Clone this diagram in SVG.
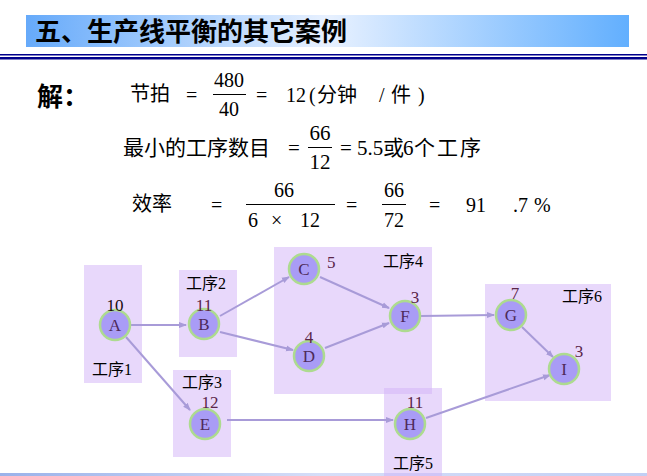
<svg xmlns="http://www.w3.org/2000/svg" width="647" height="476" viewBox="0 0 647 476" xml:space="preserve">
<defs>
<linearGradient id="tg" x1="0" y1="0" x2="1" y2="0">
<stop offset="0" stop-color="#66aafa"/>
<stop offset="0.5" stop-color="#e8f1ff"/>
<stop offset="1" stop-color="#62affe"/>
</linearGradient>
<linearGradient id="bg" x1="0" y1="0" x2="1" y2="0">
<stop offset="0" stop-color="#9ab2ea"/>
<stop offset="0.5" stop-color="#d6def8"/>
<stop offset="1" stop-color="#c2cff4"/>
</linearGradient>
<marker id="ah" markerWidth="8" markerHeight="8" refX="7" refY="4" orient="auto" markerUnits="userSpaceOnUse">
<path d="M0,1 L8,4 L0,7 Z" fill="#a89bd8"/>
</marker>
<style>
text{white-space:pre}
.t{font-family:"Liberation Serif","Noto Sans CJK SC",serif;fill:#000}
.eq{font-size:20px}
.eq2{font-size:21px}
.lb{font-size:16px}
.num{font-family:"Liberation Serif",serif;font-size:17px;fill:#5a2648}
.box{fill:#d2b2f8;fill-opacity:0.5}
.nd{fill:#a99cf6;stroke:#addb8f;stroke-width:2.5}
.nt{font-family:"Liberation Serif",serif;font-size:17px;fill:#4e2a5a;text-anchor:middle}
.cn{stroke:#a89bd8;stroke-width:2;fill:none;marker-end:url(#ah)}
.bar{stroke:#000;stroke-width:1}
</style>
</defs>
<rect width="647" height="476" fill="#fff"/>
<g id="title">
<rect x="26" y="15" width="603" height="32" fill="url(#tg)"/>
<text x="35" y="41" font-family="'Noto Sans CJK SC',sans-serif" font-size="26" font-weight="bold" fill="#000">五、生产线平衡的其它案例</text>
<rect x="0" y="54" width="647" height="1.5" fill="#00008b"/>
<rect x="0" y="57" width="647" height="2.5" fill="#00008b"/>
</g>
<rect x="0" y="473" width="647" height="3" fill="url(#bg)"/>
<g id="formulas">
<text class="t" x="37" y="106" font-size="26" font-weight="bold" font-family="'Noto Sans CJK SC',sans-serif">解：</text>
<text class="t eq" x="130" y="101">节拍</text>
<text class="t eq" x="186" y="102">=</text>
<text class="t eq" x="229" y="87" text-anchor="middle">480</text>
<line class="bar" x1="213" y1="94.5" x2="246" y2="94.5"/>
<text class="t eq" x="229" y="116" text-anchor="middle">40</text>
<text class="t eq" x="256" y="102">=</text>
<text class="t eq" x="286" y="102">12</text>
<text class="t eq" x="309" y="102">(</text>
<text class="t eq" x="317" y="102">分钟</text>
<text class="t eq" x="379" y="102">/</text>
<text class="t eq" x="391" y="102">件</text>
<text class="t eq" x="418" y="102">)</text>
<text class="t eq2" x="123" y="155">最小的工序数目</text>
<text class="t eq2" x="288" y="155">=</text>
<text class="t eq2" x="320" y="140" text-anchor="middle">66</text>
<line class="bar" x1="308" y1="147.5" x2="332" y2="147.5"/>
<text class="t eq2" x="320" y="169" text-anchor="middle">12</text>
<text class="t eq2" x="340" y="155">=</text>
<text class="t eq2" x="357" y="155">5.5</text>
<text class="t eq2" x="383" y="155">或</text>
<text class="t eq2" x="403" y="155">6</text>
<text class="t eq2" x="414" y="155" letter-spacing="2">个工序</text>
<text class="t eq" x="132" y="211">效率</text>
<text class="t eq" x="211" y="212">=</text>
<text class="t eq" x="284" y="197" text-anchor="middle">66</text>
<line class="bar" x1="246" y1="204.5" x2="335" y2="204.5"/>
<text class="t eq" x="248" y="227">6</text>
<text class="t eq" x="271" y="227">×</text>
<text class="t eq" x="300" y="227">12</text>
<text class="t eq" x="346" y="212">=</text>
<text class="t eq" x="394" y="197" text-anchor="middle">66</text>
<line class="bar" x1="382" y1="204.5" x2="406" y2="204.5"/>
<text class="t eq" x="394" y="227" text-anchor="middle">72</text>
<text class="t eq" x="429" y="212">=</text>
<text class="t eq" x="466" y="212">91</text>
<text class="t eq" x="513" y="212">.7</text>
<text class="t eq" x="534" y="212">%</text>
</g>
<g id="stations">
<rect class="box" x="84" y="265" width="58" height="118"/>
<rect class="box" x="179" y="270" width="58" height="87"/>
<rect class="box" x="173" y="370" width="58" height="87"/>
<rect class="box" x="274" y="247" width="158" height="147"/>
<rect class="box" x="384" y="388" width="58" height="88"/>
<rect class="box" x="485" y="284" width="126" height="117"/>
<text class="t lb" x="92" y="375">工序1</text>
<text class="t lb" x="186" y="289">工序2</text>
<text class="t lb" x="182" y="388">工序3</text>
<text class="t lb" x="383" y="267">工序4</text>
<text class="t lb" x="393" y="469">工序5</text>
<text class="t lb" x="562" y="302">工序6</text>
</g>
<g id="connectors">
<line class="cn" x1="131" y1="325" x2="186" y2="325"/>
<line class="cn" x1="126" y1="337" x2="190" y2="410"/>
<line class="cn" x1="220" y1="316" x2="289" y2="277"/>
<line class="cn" x1="220" y1="332" x2="293" y2="350"/>
<line class="cn" x1="320" y1="277" x2="389" y2="308"/>
<line class="cn" x1="325" y1="348" x2="389" y2="323"/>
<line class="cn" x1="421" y1="316" x2="494" y2="315"/>
<line class="cn" x1="227" y1="420" x2="393" y2="420"/>
<line class="cn" x1="426" y1="418" x2="550" y2="375"/>
<line class="cn" x1="522" y1="327" x2="553" y2="357"/>
</g>
<g id="node-A"><circle class="nd" cx="115" cy="325" r="15"/><text class="nt" x="115" y="331">A</text><text class="num" x="115" y="311" text-anchor="middle" style="fill:#1a0a10">10</text></g>
<g id="node-B"><circle class="nd" cx="204" cy="324" r="15"/><text class="nt" x="204" y="330">B</text><text class="num" x="204" y="311" text-anchor="middle">11</text></g>
<g id="node-C"><circle class="nd" cx="304" cy="269" r="15"/><text class="nt" x="304" y="275">C</text><text class="num" x="327" y="268">5</text></g>
<g id="node-D"><circle class="nd" cx="309" cy="356" r="15"/><text class="nt" x="309" y="362">D</text><text class="num" x="309" y="343" text-anchor="middle">4</text></g>
<g id="node-E"><circle class="nd" cx="205" cy="424" r="15"/><text class="nt" x="205" y="430">E</text><text class="num" x="210" y="408" text-anchor="middle">12</text></g>
<g id="node-F"><circle class="nd" cx="405" cy="316" r="15"/><text class="nt" x="405" y="322">F</text><text class="num" x="415" y="303" text-anchor="middle">3</text></g>
<g id="node-G"><circle class="nd" cx="511" cy="315" r="15"/><text class="nt" x="511" y="321">G</text><text class="num" x="515" y="299" text-anchor="middle">7</text></g>
<g id="node-H"><circle class="nd" cx="410" cy="424" r="15"/><text class="nt" x="410" y="430">H</text><text class="num" x="415" y="408" text-anchor="middle">11</text></g>
<g id="node-I"><circle class="nd" cx="564" cy="369" r="15"/><text class="nt" x="564" y="375">I</text><text class="num" x="579" y="357" text-anchor="middle">3</text></g>
</svg>
